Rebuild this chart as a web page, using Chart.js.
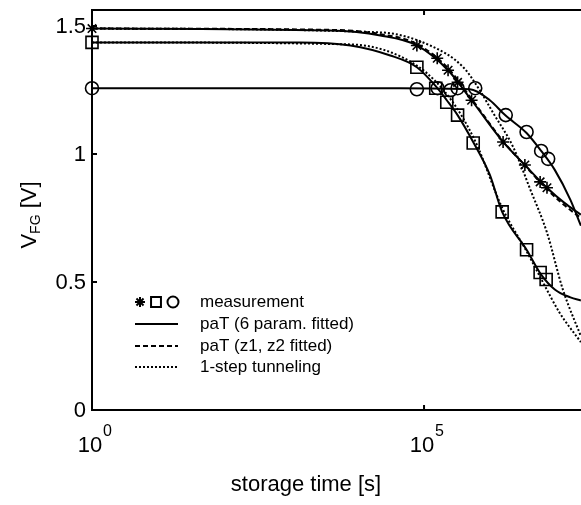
<!DOCTYPE html>
<html>
<head>
<meta charset="utf-8">
<script src="https://cdn.jsdelivr.net/npm/chart.js@4/dist/chart.umd.min.js"></script>
<style>
body { margin: 0; background: #fff; }
canvas { display: block; }
</style>
</head>
<body>
<canvas id="vfgChart" width="581" height="505"></canvas>
<script>
// measurement points (storage time in s, V_FG in V)
var starTime = [1, 7.8e4, 1.58e5, 2.3e5, 3.2e5, 5.2e5, 1.55e6, 3.3e6, 5.6e6, 7.1e6];
var starVolt = [1.49, 1.424, 1.374, 1.327, 1.28, 1.21, 1.047, 0.957, 0.891, 0.868];
var squareTime = [1, 7.8e4, 1.5e5, 2.2e5, 3.2e5, 5.5e5, 1.5e6, 3.5e6, 5.6e6, 6.9e6];
var squareVolt = [1.436, 1.339, 1.257, 1.202, 1.152, 1.043, 0.774, 0.626, 0.537, 0.51];
var circleTime = [1, 7.8e4, 1.6e5, 2.5e5, 3.2e5, 5.9e5, 1.7e6, 3.5e6, 5.8e6, 7.4e6];
var circleVolt = [1.257, 1.253, 1.257, 1.249, 1.257, 1.257, 1.152, 1.086, 1.012, 0.981];

// paT (6 param. fitted)
var fitSqTime = [1, 1.35e3, 7.8e3, 3.1e4, 7.8e4, 1.5e5, 2.2e5, 3.2e5, 5.6e5, 9.8e5, 1.5e6, 3.5e6, 5.8e6, 9.3e6, 1.6e7, 2.3e7];
var fitSqVolt = [1.436, 1.436, 1.424, 1.385, 1.339, 1.265, 1.21, 1.152, 1.043, 0.918, 0.774, 0.626, 0.529, 0.471, 0.44, 0.428];
var fitCiTime = [1, 4.4e4, 4.9e5, 9.8e5, 1.66e6, 3.5e6, 5.8e6, 9.3e6, 1.6e7, 2.3e7];
var fitCiVolt = [1.257, 1.257, 1.253, 1.21, 1.152, 1.082, 1.012, 0.938, 0.821, 0.72];
var fitStTime = [1, 3.8e3, 2.2e4, 7.8e4, 2.3e5, 5.2e5, 1.55e6, 3.3e6, 7.1e6, 1.3e7, 2.3e7];
var fitStVolt = [1.49, 1.482, 1.463, 1.424, 1.327, 1.21, 1.047, 0.957, 0.868, 0.809, 0.763];

// paT (z1, z2 fitted)
var dashStVolt = [1.49, 1.485, 1.468, 1.43, 1.335, 1.215, 1.05, 0.955, 0.862, 0.8, 0.75];

// 1-step tunneling
var tunStTime = [1, 2.2e4, 1.23e5, 3.9e5, 6.9e5, 1.1e6, 2.2e6, 4.0e6, 7.1e6, 1.23e7, 2.3e7];
var tunStVolt = [1.49, 1.475, 1.424, 1.339, 1.249, 1.16, 1.027, 0.86, 0.693, 0.471, 0.288];
var tunSqTime = [1, 7.8e3, 7.8e4, 2.5e5, 5.9e5, 1.5e6, 3.5e6, 6.2e6, 1.1e7, 2.3e7];
var tunSqVolt = [1.436, 1.428, 1.345, 1.215, 1.05, 0.79, 0.62, 0.498, 0.38, 0.265];

var yTicks = [0, 0.5, 1, 1.5];
var yTickLabels = ["0", "0.5", "1", "1.5"];
var xTickExp = [0, 5];

var legendLabels = ["measurement", "paT (6 param. fitted)", "paT (z1, z2 fitted)", "1-step tunneling"];

var FONT = '"Liberation Sans", Arial, Helvetica, sans-serif';

function pts(t, v) {
  return t.map(function (x, i) { return { x: x, y: v[i] }; });
}

function marks(t, v, style, r) {
  return {
    data: pts(t, v), showLine: false, pointStyle: style, pointRadius: r,
    pointBorderColor: '#000', pointBackgroundColor: 'rgba(0,0,0,0)',
    pointBorderWidth: 1.6, clip: false
  };
}

function curve(t, v, dash) {
  return {
    data: pts(t, v), showLine: true, borderColor: '#000', borderWidth: 2, borderDash: dash,
    pointRadius: 0, cubicInterpolationMode: 'monotone', fill: false
  };
}

var decor = {
  id: 'decor',
  afterDraw: function (chart) {
    var ctx = chart.ctx, a = chart.chartArea;
    var xs = chart.scales.x, ys = chart.scales.y;
    ctx.save();
    ctx.strokeStyle = '#000';
    ctx.fillStyle = '#000';
    ctx.lineWidth = 2;
    ctx.setLineDash([]);
    // frame
    ctx.beginPath();
    ctx.moveTo(a.right, a.top);
    ctx.lineTo(a.left, a.top);
    ctx.lineTo(a.left, a.bottom);
    ctx.lineTo(a.right, a.bottom);
    ctx.stroke();
    // ticks
    ctx.beginPath();
    yTicks.forEach(function (v) {
      var py = ys.getPixelForValue(v);
      ctx.moveTo(a.left, py); ctx.lineTo(a.left + 5, py);
    });
    xTickExp.forEach(function (e) {
      var px = xs.getPixelForValue(Math.pow(10, e));
      ctx.moveTo(px, a.bottom); ctx.lineTo(px, a.bottom - 5);
      ctx.moveTo(px, a.top); ctx.lineTo(px, a.top + 5);
    });
    ctx.stroke();

    // y tick labels
    ctx.font = '22px ' + FONT;
    ctx.textAlign = 'right';
    ctx.textBaseline = 'middle';
    yTicks.forEach(function (v, i) {
      ctx.fillText(yTickLabels[i], a.left - 6, ys.getPixelForValue(v) + 1);
    });

    // x tick labels 10^n
    ctx.textBaseline = 'alphabetic';
    xTickExp.forEach(function (e) {
      var px = xs.getPixelForValue(Math.pow(10, e));
      ctx.font = '22px ' + FONT;
      ctx.textAlign = 'center';
      ctx.fillText('10', px - 2, 452);
      ctx.font = '16px ' + FONT;
      ctx.textAlign = 'left';
      ctx.fillText(String(e), px + 11, 436);
    });

    // x axis title
    ctx.font = '22px ' + FONT;
    ctx.textAlign = 'center';
    ctx.fillText('storage time [s]', 306, 491);

    // y axis title V_FG [V]
    ctx.save();
    ctx.translate(36, 215);
    ctx.rotate(-Math.PI / 2);
    ctx.textAlign = 'left';
    ctx.font = '22px ' + FONT;
    var wV = ctx.measureText('V').width;
    var wU = ctx.measureText(' [V]').width;
    ctx.font = '14px ' + FONT;
    var wS = ctx.measureText('FG').width;
    var x0 = -(wV + wS + wU) / 2;
    ctx.font = '22px ' + FONT;
    ctx.fillText('V', x0, 0);
    ctx.font = '14px ' + FONT;
    ctx.fillText('FG', x0 + wV, 4);
    ctx.font = '22px ' + FONT;
    ctx.fillText(' [V]', x0 + wV + wS, 0);
    ctx.restore();

    // legend
    var rows = [302, 324, 346, 367];
    ctx.font = '17px ' + FONT;
    ctx.textAlign = 'left';
    ctx.textBaseline = 'middle';
    legendLabels.forEach(function (t, i) {
      ctx.fillText(t, 200, rows[i]);
    });
    ctx.fillStyle = 'rgba(0,0,0,0)';
    Chart.helpers.drawPoint(ctx, { pointStyle: 'star', radius: 5, borderWidth: 1.6, rotation: 0 }, 140, rows[0]);
    Chart.helpers.drawPoint(ctx, { pointStyle: 'rect', radius: 7, borderWidth: 1.6, rotation: 0 }, 156, rows[0]);
    Chart.helpers.drawPoint(ctx, { pointStyle: 'circle', radius: 5.5, borderWidth: 1.6, rotation: 0 }, 173, rows[0]);
    ctx.lineWidth = 2;
    var dashes = [[], [5, 3], [2, 2]];
    dashes.forEach(function (d, i) {
      ctx.setLineDash(d);
      ctx.beginPath();
      ctx.moveTo(135, rows[i + 1]);
      ctx.lineTo(178, rows[i + 1]);
      ctx.stroke();
    });
    ctx.restore();
  }
};

var ctxV = document.getElementById('vfgChart').getContext('2d');
var vfgChart = new Chart(ctxV, {
  type: 'scatter',
  data: {
    datasets: [
      curve(tunStTime, tunStVolt, [2, 2]),
      curve(tunSqTime, tunSqVolt, [2, 2]),
      curve(fitStTime, dashStVolt, [5, 3]),
      curve(fitSqTime, fitSqVolt, []),
      curve(fitCiTime, fitCiVolt, []),
      curve(fitStTime, fitStVolt, []),
      marks(starTime, starVolt, 'star', 6),
      marks(squareTime, squareVolt, 'rect', 8.5),
      marks(circleTime, circleVolt, 'circle', 6.5)
    ]
  },
  options: {
    responsive: false,
    animation: false,
    layout: { autoPadding: false, padding: { left: 92, top: 10, right: 0, bottom: 95 } },
    plugins: { legend: { display: false }, tooltip: { enabled: false } },
    scales: {
      x: { type: 'logarithmic', min: 1, max: 2.31e7, display: false },
      y: { type: 'linear', min: 0, max: 1.5625, display: false }
    }
  },
  plugins: [decor]
});
</script>
</body>
</html>
